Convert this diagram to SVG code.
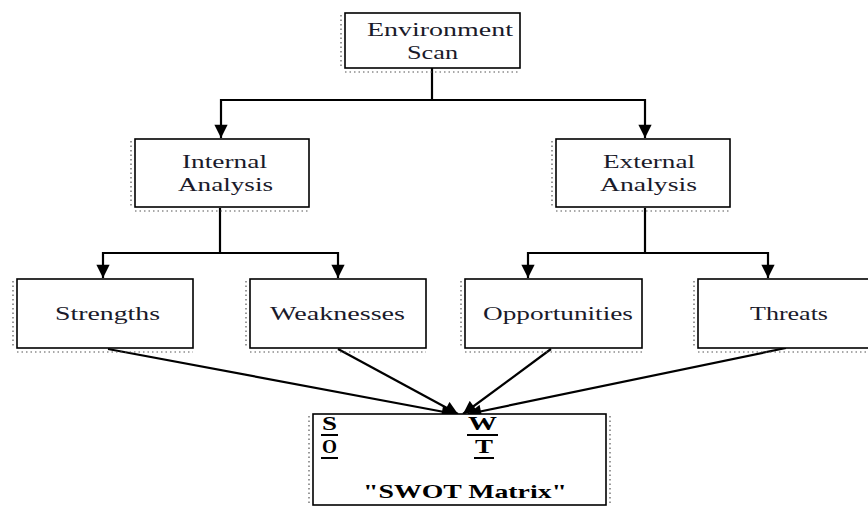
<svg xmlns="http://www.w3.org/2000/svg" width="868" height="507" viewBox="0 0 868 507">
<defs>
<style>
.box{fill:#fff;stroke:#000;stroke-width:1.6}
.tick{fill:none;stroke:#555;stroke-width:1.2;stroke-dasharray:1.5 3}
.lbl{font-family:"Liberation Serif","DejaVu Serif","Times New Roman",serif;font-size:19px;fill:#1a1a2a}
.b{font-weight:bold;fill:#000}
.con{fill:none;stroke:#000;stroke-width:2.2}
</style>
<marker id="ah" viewBox="0 0 10 10" refX="10" refY="5" markerWidth="6.5" markerHeight="6" orient="auto" markerUnits="strokeWidth">
<path d="M0,0 L10,5 L0,10 z" fill="#000"/>
</marker>
</defs>
<rect width="868" height="507" fill="#fff"/>

<g id="connectors">
<polyline class="con" points="432,68 432,100"/>
<polyline class="con" points="221,100 645,100"/>
<line class="con" x1="221" y1="99" x2="221" y2="138" marker-end="url(#ah)"/>
<line class="con" x1="645" y1="99" x2="645" y2="138" marker-end="url(#ah)"/>
<polyline class="con" points="220,208 220,253"/>
<polyline class="con" points="103,253 338,253"/>
<line class="con" x1="103" y1="252" x2="103" y2="278" marker-end="url(#ah)"/>
<line class="con" x1="338" y1="252" x2="338" y2="278" marker-end="url(#ah)"/>
<polyline class="con" points="645,208 645,253"/>
<polyline class="con" points="528,253 768,253"/>
<line class="con" x1="528" y1="252" x2="528" y2="278" marker-end="url(#ah)"/>
<line class="con" x1="768" y1="252" x2="768" y2="278" marker-end="url(#ah)"/>
<line class="con" x1="108" y1="349" x2="455" y2="414" marker-end="url(#ah)"/>
<line class="con" x1="338" y1="349" x2="458" y2="414" marker-end="url(#ah)"/>
<line class="con" x1="551" y1="349" x2="463" y2="414" marker-end="url(#ah)"/>
<line class="con" x1="786" y1="348" x2="468" y2="414" marker-end="url(#ah)"/>
</g>

<g id="env">
<rect class="box" x="345" y="13" width="175" height="55"/>
<path class="tick" d="M341,15 V68 M345,72 H520"/>
<text class="lbl" x="367" y="36" textLength="146" lengthAdjust="spacingAndGlyphs">Environment</text>
<text class="lbl" x="407" y="59" textLength="51" lengthAdjust="spacingAndGlyphs">Scan</text>
</g>

<g id="internal">
<rect class="box" x="135" y="139" width="174" height="68"/>
<path class="tick" d="M131,141 V207 M135,211 H309"/>
<text class="lbl" x="182" y="168" textLength="85" lengthAdjust="spacingAndGlyphs">Internal</text>
<text class="lbl" x="178" y="191" textLength="95" lengthAdjust="spacingAndGlyphs">Analysis</text>
</g>

<g id="external">
<rect class="box" x="556" y="139" width="174" height="68"/>
<path class="tick" d="M552,141 V207 M556,211 H730"/>
<text class="lbl" x="603" y="168" textLength="92" lengthAdjust="spacingAndGlyphs">External</text>
<text class="lbl" x="600" y="191" textLength="97" lengthAdjust="spacingAndGlyphs">Analysis</text>
</g>

<g id="strengths">
<rect class="box" x="17" y="279" width="176" height="69"/>
<path class="tick" d="M13,281 V348 M17,352 H193"/>
<text class="lbl" x="55" y="320" textLength="105" lengthAdjust="spacingAndGlyphs">Strengths</text>
</g>

<g id="weaknesses">
<rect class="box" x="250" y="279" width="176" height="69"/>
<path class="tick" d="M246,281 V348 M250,352 H426"/>
<text class="lbl" x="270" y="320" textLength="135" lengthAdjust="spacingAndGlyphs">Weaknesses</text>
</g>

<g id="opportunities">
<rect class="box" x="465" y="279" width="177" height="69"/>
<path class="tick" d="M461,281 V348 M465,352 H642"/>
<text class="lbl" x="483" y="320" textLength="150" lengthAdjust="spacingAndGlyphs">Opportunities</text>
</g>

<g id="threats">
<rect class="box" x="698" y="279" width="180" height="69"/>
<path class="tick" d="M694,281 V348 M698,352 H868"/>
<text class="lbl" x="750" y="320" textLength="78" lengthAdjust="spacingAndGlyphs">Threats</text>
</g>

<g id="swot">
<rect class="box" x="313" y="414" width="293" height="91"/>
<path class="tick" d="M309,416 V505 M610,416 V505"/>
<text class="lbl b" x="322" y="430" textLength="15" lengthAdjust="spacingAndGlyphs">S</text>
<line x1="321" y1="435" x2="338" y2="435" stroke="#000" stroke-width="2"/>
<text class="lbl b" x="322" y="453" textLength="15" lengthAdjust="spacingAndGlyphs">O</text>
<line x1="321" y1="458" x2="338" y2="458" stroke="#000" stroke-width="2"/>
<text class="lbl b" x="468" y="430" textLength="29" lengthAdjust="spacingAndGlyphs">W</text>
<line x1="467" y1="435" x2="498" y2="435" stroke="#000" stroke-width="2"/>
<text class="lbl b" x="475" y="453" textLength="18" lengthAdjust="spacingAndGlyphs">T</text>
<line x1="474" y1="458" x2="494" y2="458" stroke="#000" stroke-width="2"/>
<text class="lbl b" x="363" y="498" textLength="204" lengthAdjust="spacingAndGlyphs">"SWOT Matrix"</text>
</g>
</svg>
